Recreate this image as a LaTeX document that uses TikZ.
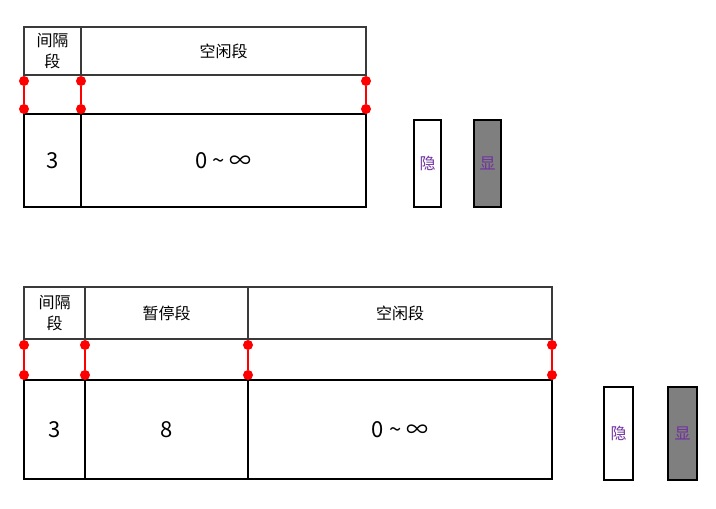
\documentclass[tikz,border=0pt]{standalone}
\usepackage{fontspec}
\setmainfont{Noto Sans CJK SC}
\definecolor{hdrgray}{HTML}{3A3A3A}
\definecolor{labpurple}{HTML}{7030A0}
\definecolor{swgray}{HTML}{7F7F7F}
\newcommand{\zeroinf}{0 \textasciitilde{} ∞}
\begin{document}
\begin{tikzpicture}[x=1pt,y=-1pt,
  hdr/.style={draw=hdrgray, line width=1.4pt, inner sep=0pt, outer sep=0pt, align=center, font=\fontsize{16}{21}\selectfont},
  cell/.style={draw=black, line width=2pt, inner sep=0pt, outer sep=0pt, font=\fontsize{22}{26}\selectfont},
  dot/.style={circle, fill=red, inner sep=0pt, minimum size=10pt},
  link/.style={draw=red, line width=1.3pt},
  swatch/.style={draw=black, line width=2pt, inner sep=0pt, outer sep=0pt, text=labpurple, font=\fontsize{16}{18}\selectfont}]
\useasboundingbox (0,0) rectangle (716,509);
% ---- top diagram ----
\node[hdr, minimum width=57pt, minimum height=48pt] (th1) at (52.5,51) {间隔\\段};
\node[hdr, minimum width=285pt, minimum height=48pt] (th2) at (223.5,51) {空闲段};
\node[cell, minimum width=57pt, minimum height=93pt] (tc1) at (52.5,160.5) {3};
\node[cell, minimum width=285pt, minimum height=93pt] (tc2) at (223.5,160.5) {\zeroinf};
\node[dot] (ta1) at (24,81) {};
\node[dot] (tb1) at (24,109) {};
\node[dot] (ta2) at (81,81) {};
\node[dot] (tb2) at (81,109) {};
\node[dot] (ta3) at (366,81) {};
\node[dot] (tb3) at (366,109) {};
\draw[link] (ta1) -- (tb1);
\draw[link] (ta2) -- (tb2);
\draw[link] (ta3) -- (tb3);
\node[swatch, minimum width=27pt, minimum height=87pt] (ths) at (427.5,163.5) {隐};
\node[swatch, fill=swgray, minimum width=27pt, minimum height=87pt] (tsh) at (487.5,163.5) {显};
% ---- bottom diagram ----
\node[hdr, minimum width=61pt, minimum height=52pt] (bh1) at (54.5,313) {间隔\\段};
\node[hdr, minimum width=163pt, minimum height=52pt] (bh2) at (166.5,313) {暂停段};
\node[hdr, minimum width=304pt, minimum height=52pt] (bh3) at (400,313) {空闲段};
\node[cell, minimum width=61pt, minimum height=99pt] (bc1) at (54.5,429.5) {3};
\node[cell, minimum width=163pt, minimum height=99pt] (bc2) at (166.5,429.5) {8};
\node[cell, minimum width=304pt, minimum height=99pt] (bc3) at (400,429.5) {\zeroinf};
\node[dot] (ba1) at (24,345) {};
\node[dot] (bb1) at (24,375) {};
\node[dot] (ba2) at (85,345) {};
\node[dot] (bb2) at (85,375) {};
\node[dot] (ba3) at (248,345) {};
\node[dot] (bb3) at (248,375) {};
\node[dot] (ba4) at (552,345) {};
\node[dot] (bb4) at (552,375) {};
\draw[link] (ba1) -- (bb1);
\draw[link] (ba2) -- (bb2);
\draw[link] (ba3) -- (bb3);
\draw[link] (ba4) -- (bb4);
\node[swatch, minimum width=29pt, minimum height=93pt] (bhs) at (618.5,433.5) {隐};
\node[swatch, fill=swgray, minimum width=29pt, minimum height=93pt] (bsh) at (682.5,433.5) {显};
\end{tikzpicture}
\end{document}
